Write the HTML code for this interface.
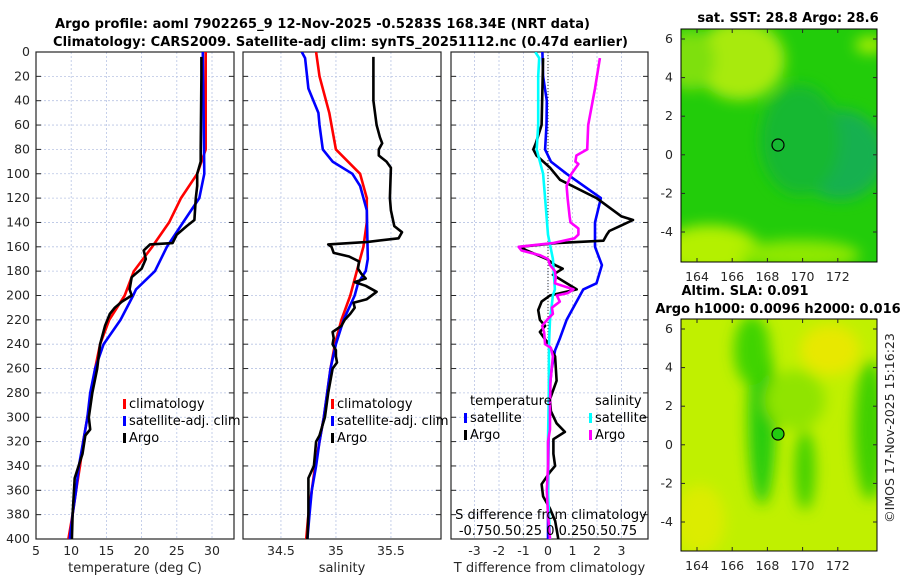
<!DOCTYPE html>
<html><head><meta charset="utf-8">
<style>
html,body{margin:0;padding:0;background:#fff;}
svg{display:block;font-family:"DejaVu Sans","Liberation Sans",sans-serif;}
</style></head>
<body>
<svg id="fig" width="900" height="580" viewBox="0 0 900 580">
<defs>
<filter id="blur" x="-20%" y="-20%" width="140%" height="140%"><feGaussianBlur stdDeviation="7"/></filter>
<clipPath id="clipTop"><rect x="681" y="29" width="196" height="233"/></clipPath>
<clipPath id="clipBot"><rect x="681" y="319" width="196" height="232"/></clipPath>
<clipPath id="c1"><rect x="36" y="52" width="198" height="487"/></clipPath>
<clipPath id="c2"><rect x="243" y="52" width="198" height="487"/></clipPath>
<clipPath id="c3"><rect x="451" y="52" width="197" height="487"/></clipPath>
</defs>
<text x="55" y="28" text-anchor="start" font-size="13" font-weight="bold" fill="#000" textLength="535">Argo profile: aoml 7902265_9 12-Nov-2025 -0.5283S 168.34E (NRT data)</text>
<text x="53" y="46" text-anchor="start" font-size="13" font-weight="bold" fill="#000" textLength="575">Climatology: CARS2009. Satellite-adj clim: synTS_20251112.nc (0.47d earlier)</text>

<!-- maps -->
<g>
<g clip-path="url(#clipTop)">
<rect x="681" y="29" width="196" height="233" fill="#22cc0a"/>
<g filter="url(#blur)">
<ellipse cx="740" cy="60" rx="45" ry="40" fill="#a8ea10"/>
<ellipse cx="690" cy="60" rx="25" ry="30" fill="#7ee010"/>
<ellipse cx="710" cy="250" rx="50" ry="25" fill="#b4f000"/>
<ellipse cx="800" cy="255" rx="60" ry="15" fill="#8ee800"/>
<ellipse cx="840" cy="155" rx="45" ry="45" fill="#12b050"/>
<ellipse cx="800" cy="140" rx="40" ry="55" fill="#18b830"/>
<ellipse cx="870" cy="45" rx="15" ry="8" fill="#b0f000"/>
</g>
</g>
<rect x="681" y="29" width="196" height="233" fill="none" stroke="#000" stroke-width="1"/>
<circle cx="778" cy="145" r="6" fill="none" stroke="#000" stroke-width="1.2"/>
<text x="788" y="22" text-anchor="middle" font-size="13" font-weight="bold">sat. SST: 28.8 Argo: 28.6</text>
</g>
<g>
<g clip-path="url(#clipBot)">
<rect x="681" y="319" width="196" height="232" fill="#c0f000"/>
<g filter="url(#blur)">
<ellipse cx="762" cy="420" rx="14" ry="85" fill="#28cc10"/>
<ellipse cx="752" cy="350" rx="18" ry="35" fill="#40d400"/>
<ellipse cx="805" cy="470" rx="10" ry="40" fill="#40d000"/>
<ellipse cx="870" cy="430" rx="16" ry="70" fill="#40d000"/>
<ellipse cx="830" cy="350" rx="30" ry="25" fill="#e8e800"/>
<ellipse cx="700" cy="520" rx="25" ry="35" fill="#dcec00"/>
<ellipse cx="795" cy="400" rx="30" ry="30" fill="#90e400"/>
</g>
</g>
<rect x="681" y="319" width="196" height="232" fill="none" stroke="#000" stroke-width="1"/>
<circle cx="778" cy="434" r="6" fill="#22cc10" stroke="#000" stroke-width="1.2"/>
<text x="745" y="295" text-anchor="middle" font-size="13" font-weight="bold">Altim. SLA: 0.091</text>
<text x="778" y="313" text-anchor="middle" font-size="13" font-weight="bold">Argo h1000: 0.0096 h2000: 0.016</text>
</g>
<text transform="translate(894,428) rotate(-90)" text-anchor="middle" font-size="12.5" fill="#262626">©IMOS 17-Nov-2025 15:16:23</text>
<g id="dyn"></g>
</svg>
<script>
// ---- data ----
const depthTicks = [0,20,40,60,80,100,120,140,160,180,200,220,240,260,280,300,320,340,360,380,400];
const tempTicks = [5,10,15,20,25,30];
const salTicks = [34.5,35,35.5];
const salTickLabels = ["34.5","35","35.5"];
const diffTicks = [-3,-2,-1,0,1,2,3];
const latTicks = [6,4,2,0,-2,-4];
const lonTicks = [164,166,168,170,172];

const tClimDepth = [0,20,80,100,120,140,160,180,200,220,240,260,280,300,320,340,360,380,400];
const tClim = [29.1,29.1,29.1,27.9,25.6,23.9,21.5,18.9,17.6,15.4,14.1,13.4,12.9,12.3,11.7,11.25,10.7,10.2,9.6];
const tSatDepth = [0,100,120,140,160,180,195,200,220,240,260,280,300,320,340,360,380,400];
const tSat = [28.7,28.9,28.2,25.9,23.6,21.9,19.2,18.8,17.0,14.6,13.4,12.7,12.3,11.7,11.1,10.7,10.2,9.8];
const tArgoDepth = [4,20,80,90,100,110,120,138,143,150,157,158,163,170,178,185,195,200,205,210,215,225,240,260,280,300,310,315,330,350,360,380,400];
const tArgo = [28.5,28.5,28.4,28.4,27.9,27.9,27.7,27.5,26.4,25.0,24.4,21.2,20.3,20.6,20.0,18.6,18.3,18.6,17.2,16.2,15.5,14.8,14.1,13.7,13.0,12.5,12.7,12.0,11.6,10.5,10.4,10.2,10.1];

const sClimDepth = [0,20,50,80,100,120,140,160,180,200,220,240,260,280,300,320,340,360,380,400];
const sClim = [34.82,34.85,34.94,35.0,35.22,35.28,35.28,35.25,35.19,35.13,35.05,34.99,34.95,34.92,34.89,34.85,34.81,34.78,34.75,34.73];
const sSatDepth = [0,5,30,50,60,80,90,100,110,130,170,180,190,200,220,240,260,300,320,340,360,380,400];
const sSat = [34.69,34.72,34.75,34.84,34.85,34.88,34.97,35.15,35.22,35.28,35.29,35.27,35.2,35.17,35.07,35.0,34.95,34.89,34.85,34.82,34.78,34.76,34.74];
const sArgoDepth = [4,40,60,70,75,80,85,90,95,120,130,143,148,153,156,158,160,165,168,172,178,182,186,189,192,197,203,206,210,215,220,225,230,235,240,245,250,255,260,280,300,315,320,340,350,360,380,400];
const sArgo = [35.34,35.34,35.37,35.40,35.42,35.39,35.39,35.46,35.50,35.49,35.50,35.53,35.60,35.57,35.29,34.93,34.96,34.98,35.12,35.21,35.20,35.23,35.27,35.17,35.27,35.37,35.28,35.16,35.17,35.13,35.08,35.05,34.97,34.98,34.97,35.0,35.0,35.01,34.97,34.93,34.90,34.85,34.82,34.80,34.75,34.75,34.75,34.74];

const dTSatDepth = [0,20,40,60,80,90,100,120,140,160,175,190,195,220,235,245,260,280,320,360,400];
const dTSat = [-0.23,-0.2,-0.05,-0.06,-0.12,0.12,0.76,2.16,1.92,1.92,2.2,1.98,1.44,0.76,0.49,0.29,0.15,0.05,0.02,0.0,0.0];
const dTArgoDepth = [5,60,75,80,85,95,105,120,135,138,143,147,150,155,157,160,163,170,175,178,183,195,200,205,212,220,225,230,238,250,270,285,295,305,312,318,330,340,345,355,365,375,385,400];
const dTArgo = [-0.2,-0.26,-0.5,-0.6,-0.47,0.08,0.49,1.98,3.0,3.47,2.94,2.5,2.4,2.26,0.35,-1.14,-0.87,-0.05,0.29,0.6,0.2,1.17,0.08,-0.26,-0.4,-0.33,-0.12,-0.33,-0.05,0.29,0.35,0.08,0.12,0.35,0.69,0.22,0.22,0.29,0.08,-0.26,-0.2,0.08,0.29,0.42];
const dSSatDepth = [0,5,20,60,80,100,120,150,170,195,200,220,240,280,320,360,400];
const dSSat = [-0.13,-0.09,-0.1,-0.1,-0.115,-0.05,-0.03,0.0,0.05,0.07,0.05,0.02,0.01,0.008,0.0,0.0,0.02];
const dSArgoDepth = [5,30,60,80,85,90,92,100,110,120,135,140,145,150,153,157,160,163,167,170,175,180,185,190,195,198,200,205,210,215,220,225,230,240,243,250,270,290,310,320,340,360,380,400];
const dSArgo = [0.53,0.48,0.41,0.4,0.29,0.28,0.31,0.24,0.19,0.2,0.22,0.23,0.31,0.31,0.27,0.05,-0.3,-0.27,-0.08,0.0,0.02,0.07,0.08,0.07,0.26,0.2,0.09,0.12,0.04,0.05,-0.01,-0.06,-0.04,-0.03,0.03,0.05,0.025,0.02,0.02,0.0,0.0,-0.012,0.0,0.02];

// ---- axes ----
const Y0 = 52, Y1 = 539;
const yD = d => Y0 + d * (Y1 - Y0) / 400;
const xT = t => 36 + (t - 5) * 7.04;
const xS = s => 243 + (s - 34.155) * 110;
const xDT = d => 548 + d * 24.5;
const xDS = s => xDT(s * 4);
const yLatTop = l => 39 + (6 - l) * 19.3;
const yLatBot = l => 329 + (6 - l) * 19.3;
const xLon = l => 697 + (l - 164) * 17.6;

const NS = "http://www.w3.org/2000/svg";
const root = document.getElementById('dyn');
function mk(tag, attrs, parent) {
  const e = document.createElementNS(NS, tag);
  for (const k in attrs) e.setAttribute(k, attrs[k]);
  (parent || root).appendChild(e);
  return e;
}
function txt(s, x, y, size, anchor, parent) {
  const e = mk('text', {x: x, y: y, 'font-size': size, 'text-anchor': anchor || 'middle', fill: '#262626'}, parent);
  e.textContent = s;
  return e;
}

function panel(name, x0, x1, xTicks, xf, labels, xlabel, clip) {
  const g = mk('g', {});
  
  
  depthTicks.forEach(d => {
    mk('line', {x1: x0, x2: x1, y1: yD(d), y2: yD(d), stroke: '#b8c4e4', 'stroke-width': 0.8, 'stroke-dasharray': '2,2'}, g);
    mk('line', {x1: x0, x2: x0 + 5, y1: yD(d), y2: yD(d), stroke: '#262626', 'stroke-width': 1}, g);
    mk('line', {x1: x1 - 5, x2: x1, y1: yD(d), y2: yD(d), stroke: '#262626', 'stroke-width': 1}, g);
  });
  xTicks.forEach((t, i) => {
    const x = xf(t);
    mk('line', {x1: x, x2: x, y1: Y0, y2: Y1, stroke: '#b8c4e4', 'stroke-width': 0.8, 'stroke-dasharray': '2,2'}, g);
    const lab = txt(labels[i], x, 555, 12.5, 'middle', g);
    
    
  });
  mk('rect', {x: x0, y: Y0, width: x1 - x0, height: Y1 - Y0, fill: 'none', stroke: '#262626', 'stroke-width': 1.2}, g);
  const xl = txt(xlabel, (x0 + x1) / 2, 572, 13, 'middle', g);
  
  
  const lg = mk('g', {'clip-path': 'url(#' + clip + ')'}, g);
  return lg;
}
function line(g, depths, vals, xf, color, name, w) {
  const pts = depths.map((d, i) => xf(vals[i]).toFixed(1) + ',' + yD(d).toFixed(1)).join(' ');
  const p = mk('polyline', {points: pts, fill: 'none', stroke: color, 'stroke-width': w || 2.6, 'stroke-linejoin': 'round'}, g);
  
  
  return p;
}
function legend(x, y, color, label, name) {
  const r = mk('rect', {x: x, y: y - 9, width: 3, height: 10, fill: color});
  
  
  const t = txt(label, x + 6, y, 13, 'start');
  t.setAttribute('fill', '#000');
  
  
}

depthTicks.forEach(d => {
  const t = txt(String(d), 30, yD(d) + 4, 12.5, 'end');
  
  
});

const g1 = panel('temperature-panel', 36, 234, tempTicks, xT, tempTicks.map(String), 'temperature (deg C)', 'c1');
line(g1, tClimDepth, tClim, xT, '#ff0000', 'temp-climatology-line');
line(g1, tSatDepth, tSat, xT, '#0000ff', 'temp-satellite-line');
line(g1, tArgoDepth, tArgo, xT, '#000000', 'temp-argo-line');

const g2 = panel('salinity-panel', 243, 441, salTicks, xS, salTickLabels, 'salinity', 'c2');
line(g2, sClimDepth, sClim, xS, '#ff0000', 'sal-climatology-line');
line(g2, sSatDepth, sSat, xS, '#0000ff', 'sal-satellite-line');
line(g2, sArgoDepth, sArgo, xS, '#000000', 'sal-argo-line');

const g3 = panel('difference-panel', 451, 648, diffTicks, xDT, diffTicks.map(String), 'T difference from climatology', 'c3');
mk('line', {x1: xDT(0), x2: xDT(0), y1: Y0, y2: Y1, stroke: '#333', 'stroke-width': 1, 'stroke-dasharray': '1,2'}, g3);
line(g3, dTSatDepth, dTSat, xDT, '#0000ff', 'tdiff-satellite-line');
line(g3, dTArgoDepth, dTArgo, xDT, '#000000', 'tdiff-argo-line');
line(g3, dSSatDepth, dSSat, xDS, '#00ffff', 'sdiff-satellite-line');
line(g3, dSArgoDepth, dSArgo, xDS, '#ff00ff', 'sdiff-argo-line');

legend(123, 408, '#ff0000', 'climatology', 'legend-temp-climatology');
legend(123, 425, '#0000ff', 'satellite-adj. clim', 'legend-temp-satellite');
legend(123, 442, '#000000', 'Argo', 'legend-temp-argo');
legend(331, 408, '#ff0000', 'climatology', 'legend-sal-climatology');
legend(331, 425, '#0000ff', 'satellite-adj. clim', 'legend-sal-satellite');
legend(331, 442, '#000000', 'Argo', 'legend-sal-argo');
let lt = txt('temperature', 470, 405, 13, 'start'); lt.setAttribute('fill', '#000');


lt = txt('salinity', 595, 405, 13, 'start'); lt.setAttribute('fill', '#000');


legend(464, 422, '#0000ff', 'satellite', 'legend-tdiff-satellite');
legend(464, 439, '#000000', 'Argo', 'legend-tdiff-argo');
legend(589, 422, '#00ffff', 'satellite', 'legend-sdiff-satellite');
legend(589, 439, '#ff00ff', 'Argo', 'legend-sdiff-argo');
lt = txt('S difference from climatology', 551, 519, 13, 'middle'); lt.setAttribute('fill', '#000');


lt = txt('-0.750.50.25 0 0.250.50.75', 548, 535, 13, 'middle'); lt.setAttribute('fill', '#000');



[[yLatTop, 29, 262, 281], [yLatBot, 319, 551, 570]].forEach(([yf, top, bot, ly]) => {
  latTicks.forEach(l => {
    const y = yf(l);
    mk('line', {x1: 681, x2: 685, y1: y, y2: y, stroke: '#262626'});
    mk('line', {x1: 873, x2: 877, y1: y, y2: y, stroke: '#262626'});
    const t = txt(String(l), 673, y + 4, 12.5, 'end');
    
    
  });
  lonTicks.forEach(l => {
    const x = xLon(l);
    mk('line', {x1: x, x2: x, y1: bot - 4, y2: bot, stroke: '#262626'});
    mk('line', {x1: x, x2: x, y1: top, y2: top + 4, stroke: '#262626'});
    const t = txt(String(l), x, ly, 12.5, 'middle');
    
    
  });
});
</script>
</body></html>
